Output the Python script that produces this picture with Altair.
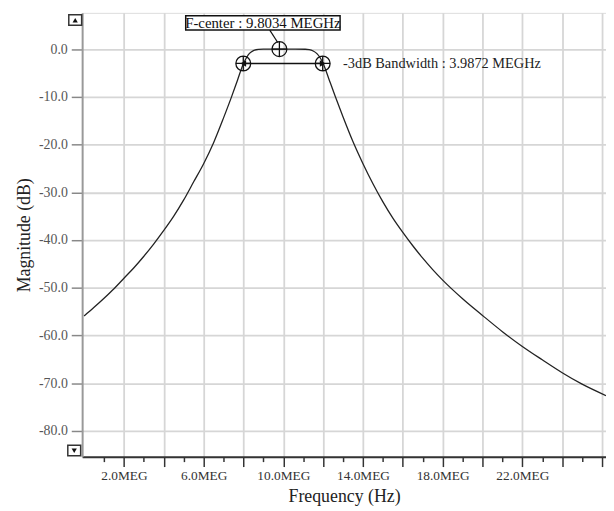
import altair as alt
import pandas as pd

# ---- data ----
freq_meg = [0.0, 0.5, 1.0, 1.5, 2.0, 2.5, 3.0, 3.5, 4.0, 4.5,
            5.0, 5.5, 6.0, 6.5, 7.0, 7.4, 7.7, 8.0, 8.15, 8.3,
            8.5, 8.75, 9.0, 9.8, 10.6, 11.1, 11.3, 11.5, 11.7, 11.85,
            12.0, 12.3, 12.6, 13.0, 13.5, 14.0, 14.5, 15.0, 15.5, 16.0,
            16.5, 17.0, 17.5, 18.0, 19.0, 20.0, 21.0, 22.0, 23.0, 24.0,
            25.0, 26.2]
mag_db = [-55.9, -54.1, -52.2, -50.2, -48.0, -45.8, -43.4, -40.8, -38.0, -35.0,
          -31.6, -27.8, -24.0, -19.6, -14.4, -10.0, -6.5, -3.0, -1.8, -0.9,
          -0.3, -0.05, 0.0, 0.0, 0.0, -0.02, -0.1, -0.4, -1.0, -1.8,
          -3.0, -6.4, -9.8, -14.2, -19.4, -24.0, -28.2, -32.0, -35.4, -38.4,
          -41.2, -43.8, -46.2, -48.4, -52.3, -55.8, -59.2, -62.3, -65.1, -67.8,
          -70.2, -72.6]

# markers: (frequency MEG, magnitude dB)
f_center = 9.8034
bandwidth = 3.9872
f_low = 7.99
f_high = f_low + bandwidth
marker_f = [f_low, f_center, f_high]
marker_db = [-3.0, 0.0, -3.0]

center_label = "F-center : 9.8034 MEGHz"
bw_label = "-3dB Bandwidth : 3.9872 MEGHz"

# tick positions
x_label_ticks = [2, 6, 10, 14, 18, 22]
x_other_major = [4, 8, 12, 16, 20, 24, 26]
x_minor = [1, 3, 5, 7, 9, 11, 13, 15, 17, 19, 21, 23, 25]
y_ticks = list(range(-80, 5, 5))

# annotation box / leader / label anchor positions (data units)
box_f = [5.1, 12.85]
box_db = [7.0, 4.0]
leader_f = [9.32, 9.72]
leader_db = [4.0, 1.4]
bw_text_pos = [13.0, -3.1]

x_domain = [-0.1, 26.2]
y_domain = [-85.4, 7.6]

FONT = "Liberation Serif"
GRID = "#d6d6d6"

curve = pd.DataFrame({"f": freq_meg, "db": mag_db})
markers = pd.DataFrame({"f": marker_f, "db": marker_db})

x_scale = alt.Scale(domain=x_domain, nice=False, zero=False)
y_scale = alt.Scale(domain=y_domain, nice=False, zero=False)

x_axis_main = alt.Axis(
    orient="bottom",
    title="Frequency (Hz)",
    values=x_label_ticks,
    labelExpr="datum.value + '.0MEG'",
    grid=True, gridColor=GRID, gridWidth=1.8,
    tickSize=10, tickColor="#333", tickWidth=1.5,
    domainColor="#333", domainWidth=2,
    labelFont=FONT, labelFontSize=13.5, labelColor="#333", labelPadding=2,
    labelOverlap=False, labelFlush=False,
    titleFont=FONT, titleFontSize=18, titleFontWeight="normal", titleColor="#222",
    titleY=40, titleBaseline="middle",
)
x_axis_major2 = alt.Axis(
    orient="bottom", title=None, values=x_other_major, labels=False, domain=False,
    grid=True, gridColor=GRID, gridWidth=1.8,
    tickSize=10, tickColor="#333", tickWidth=1.5,
)
x_axis_minor = alt.Axis(
    orient="bottom", title=None, values=x_minor, labels=False, domain=False,
    grid=False, tickSize=5, tickColor="#333", tickWidth=1.5,
)

y_axis = alt.Axis(
    title="Magnitude (dB)",
    values=y_ticks,
    labelExpr="datum.value % 10 == 0 ? datum.value + '.0' : ''",
    tickSize={"condition": {"test": "datum.value % 10 == 0", "value": 11}, "value": 5},
    gridColor={"condition": {"test": "datum.value % 10 == 0", "value": GRID}, "value": "rgba(0,0,0,0)"},
    gridWidth=1.8,
    tickColor="#888", tickWidth=1.5,
    domainColor="#999", domainWidth=2,
    labelFont=FONT, labelFontSize=14, labelColor="#555", labelPadding=4,
    labelOverlap=False, labelFlush=False,
    titleFont=FONT, titleFontSize=18, titleFontWeight="normal", titleColor="#222",
    titleX=-58, titleBaseline="middle",
)

def X(field, axis=None):
    return alt.X(field, type="quantitative", scale=x_scale, axis=axis)

def Y(field):
    return alt.Y(field, type="quantitative", scale=y_scale)

line = alt.Chart(curve).mark_line(color="#222", strokeWidth=1.3, interpolate="monotone").encode(
    x=X("f", x_axis_main),
    y=alt.Y("db:Q", scale=y_scale, axis=y_axis),
)
major2 = alt.Chart(curve).mark_point(opacity=0).encode(x=X("f", x_axis_major2), y=Y("db"))
minor = alt.Chart(curve).mark_point(opacity=0).encode(x=X("f", x_axis_minor), y=Y("db"))

box_df = pd.DataFrame({"f1": [box_f[0]], "f2": [box_f[1]], "d1": [box_db[0]], "d2": [box_db[1]]})
box = alt.Chart(box_df).mark_rect(fill="white", stroke="#111", strokeWidth=1.5).encode(
    x=X("f1"), x2="f2", y=Y("d1"), y2="d2",
)
box_text_df = pd.DataFrame({"f": [(box_f[0] + box_f[1]) / 2], "db": [(box_db[0] + box_db[1]) / 2], "t": [center_label]})
box_text = alt.Chart(box_text_df).mark_text(font=FONT, fontSize=15, color="#111", align="center", baseline="middle").encode(
    x=X("f"), y=Y("db"), text="t:N"
)

leader_df = pd.DataFrame({"f1": [leader_f[0]], "f2": [leader_f[1]], "d1": [leader_db[0]], "d2": [leader_db[1]]})
leader = alt.Chart(leader_df).mark_rule(color="#111", strokeWidth=1.2).encode(
    x=X("f1"), x2="f2", y=Y("d1"), y2="d2",
)

bw_df = pd.DataFrame({"f1": [f_low], "f2": [f_high], "db": [-3.0]})
bw_rule = alt.Chart(bw_df).mark_rule(color="#111", strokeWidth=1.6).encode(
    x=X("f1"), x2="f2", y=Y("db")
)
arrow_l = alt.Chart(pd.DataFrame({"f": [f_low], "db": [-3.0]})).mark_point(
    shape="triangle-left", filled=True, color="#111", size=45, opacity=1, dx=5
).encode(x=X("f"), y=Y("db"))
arrow_r = alt.Chart(pd.DataFrame({"f": [f_high], "db": [-3.0]})).mark_point(
    shape="triangle-right", filled=True, color="#111", size=45, opacity=1, dx=-5
).encode(x=X("f"), y=Y("db"))

cross_circle = "M-1,0A1,1 0 1,0 1,0A1,1 0 1,0 -1,0M-1,0L1,0M0,-1L0,1"
marks = alt.Chart(markers).mark_point(
    shape=cross_circle, filled=False, stroke="#111", strokeWidth=1.3, size=225, opacity=1
).encode(x=X("f"), y=Y("db"))

bw_text = alt.Chart(pd.DataFrame({"f": [bw_text_pos[0]], "db": [bw_text_pos[1]], "t": [bw_label]})).mark_text(
    font=FONT, fontSize=14.5, color="#222", align="left", baseline="middle"
).encode(x=X("f"), y=Y("db"), text="t:N")

# scroll buttons (decorative)
btn_df = pd.DataFrame({"k": [0]})
up_btn = alt.Chart(btn_df).mark_rect(fill="white", stroke="#333", strokeWidth=1.5).encode(
    x=alt.value(-13.5), x2=alt.value(-0.5), y=alt.value(2), y2=alt.value(12.5)
)
up_tri = alt.Chart(btn_df).mark_point(shape="triangle-up", filled=True, color="#111", size=28, opacity=1).encode(
    x=alt.value(-7), y=alt.value(7.5)
)
dn_btn = alt.Chart(btn_df).mark_rect(fill="white", stroke="#333", strokeWidth=1.5).encode(
    x=alt.value(-14.5), x2=alt.value(-1.5), y=alt.value(437.5), y2=alt.value(448)
)
dn_tri = alt.Chart(btn_df).mark_point(shape="triangle-down", filled=True, color="#111", size=28, opacity=1).encode(
    x=alt.value(-8), y=alt.value(443)
)

chart = alt.layer(
    line, major2, minor, bw_rule, arrow_l, arrow_r, marks, leader, box, box_text, bw_text,
    up_btn, up_tri, dn_btn, dn_tri
).resolve_axis(
    x="independent"
).properties(
    width=530, height=449,
    padding={"left": 75, "top": 2, "right": 0, "bottom": 50},
    autosize=alt.AutoSizeParams(type="none"),
).configure_view(
    stroke="#aaa", strokeWidth=1.5
).configure(background="white")

chart.save("out.html", embed_options={"renderer": "svg", "actions": False})
